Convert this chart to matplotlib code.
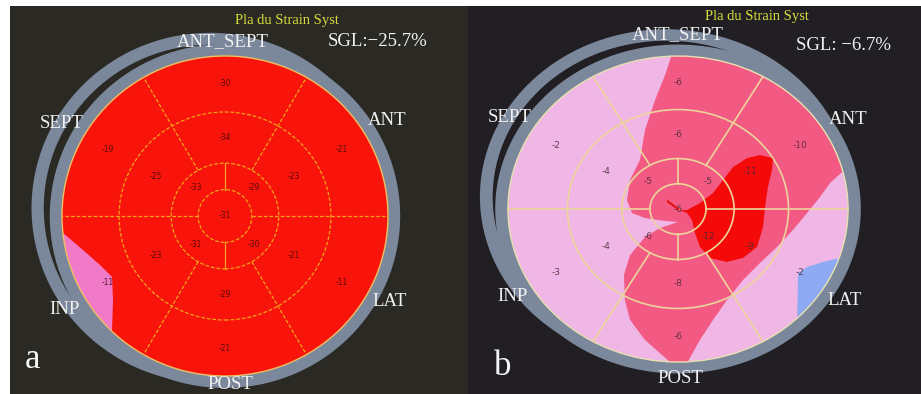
import numpy as np
import matplotlib.pyplot as plt
from matplotlib.patches import Wedge, Circle, Polygon

# 17-segment bullseye, segments listed ANT_SEPT, ANT, LAT, POST, INP, SEPT
seg_angles = [90, 30, -30, -90, -150, 150]
apical_angles = [45, 135, 225, 315]
ring_radii = [0.165, 0.33, 0.65, 1.0]

a_basal = [-30, -21, -11, -21, -11, -19]
a_mid = [-34, -23, -21, -29, -23, -25]
a_apical = [-29, -33, -31, -30]
a_apex = -31
a_sgl = "SGL:\u221225.7%"

b_basal = [-6, -10, -2, -6, -3, -2]
b_mid = [-6, -11, -9, -8, -4, -4]
b_apical = [-5, -5, -6, -12]
b_apex = -6
b_sgl = "SGL: \u22126.7%"

wall_names = ["ANT_SEPT", "SEPT", "ANT", "INP", "LAT", "POST"]

# colour zones (unit disc coordinates)
a_pink_x = [-1.2, -0.994, -0.871, -0.767, -0.693, -0.687, -0.693, -0.70, -1.2]
a_pink_y = [-0.10, -0.106, -0.213, -0.306, -0.381, -0.525, -0.713, -0.95, -0.95]

b_mid_x = [-0.018, -0.076, -0.135, -0.194, -0.224, -0.282, -0.300, -0.271, -0.194,
           -0.076, 0.0, -0.106, -0.194, -0.282, -0.318, -0.312, -0.282, -0.194,
           -0.094, -0.006, 0.071, 0.053, 0.129, 0.206, 0.288, 0.382, 0.482, 0.582,
           0.676, 0.759, 0.835, 0.894, 1.012, 1.3, 1.3, -0.018]
b_mid_y = [1.072, 0.876, 0.712, 0.516, 0.320, 0.190, 0.059, -0.026, -0.059,
           -0.078, -0.085, -0.124, -0.183, -0.301, -0.431, -0.595, -0.725, -0.856,
           -0.954, -1.039, -1.118, -1.007, -0.856, -0.725, -0.595, -0.464, -0.353, -0.248,
           -0.137, -0.026, 0.078, 0.170, 0.288, 0.30, 1.3, 1.3]

b_red_x = [0.053, 0.129, 0.206, 0.265, 0.324, 0.406, 0.482, 0.559, 0.553, 0.529,
           0.512, 0.500, 0.465, 0.382, 0.288, 0.188, 0.129, 0.100, 0.082, 0.053, 0.012]
b_red_y = [-0.007, 0.039, 0.105, 0.190, 0.275, 0.333, 0.353, 0.333, 0.255, 0.144,
           0.013, -0.118, -0.248, -0.320, -0.346, -0.320, -0.248, -0.157, -0.072, -0.026, -0.007]

b_blue_x = [0.70, 0.706, 0.759, 0.853, 0.953, 1.3, 1.3]
b_blue_y = [-0.80, -0.418, -0.379, -0.346, -0.320, -0.30, -0.9]

SERIF = "Liberation Serif"
RING = "#7b889c"


def draw_panel(ax, p):
    ax.set_xlim(p["xlim"])
    ax.set_ylim(p["ylim"])
    ax.set_facecolor(p["bg"])
    ax.set_xticks([])
    ax.set_yticks([])
    for s in ax.spines.values():
        s.set_visible(False)

    gx, gy = p["ghost"]
    ax.add_patch(Wedge((gx, gy), 1.095, 0, 360, width=0.075, fc=RING, ec="none", zorder=1))
    ax.add_patch(Wedge((0, 0), 1.075, 0, 360, width=0.08, fc=RING, ec="none", zorder=2))

    disc = Circle((0, 0), 1.0, fc=p["base"], ec="none", zorder=3)
    ax.add_patch(disc)
    for zx, zy, col in p["zones"]:
        poly = Polygon(np.column_stack([zx, zy]), closed=True, fc=col, ec="none", zorder=4)
        ax.add_patch(poly)
        poly.set_clip_path(disc)

    gc, ls, lw = p["grid"]
    for r in ring_radii[:3]:
        ax.add_patch(Circle((0, 0), r, fill=False, ec=gc, lw=lw, ls=ls, zorder=5))
    ax.add_patch(Circle((0, 0), 1.0, fill=False, ec=p["edge"], lw=1.0, zorder=5))
    for ang in [0, 60, 120, 180, 240, 300]:
        r0 = ring_radii[0] if ang in (0, 180) else ring_radii[1]
        t = np.deg2rad(ang)
        ax.plot([r0 * np.cos(t), np.cos(t)], [r0 * np.sin(t), np.sin(t)],
                color=gc, lw=lw, ls=ls, zorder=5)
    for ang in [90, 270]:
        t = np.deg2rad(ang)
        ax.plot([ring_radii[0] * np.cos(t), ring_radii[1] * np.cos(t)],
                [ring_radii[0] * np.sin(t), ring_radii[1] * np.sin(t)],
                color=gc, lw=lw, zorder=5)

    nc, fs = p["num"]
    kw = dict(ha="center", va="center", color=nc, fontsize=fs, zorder=6, alpha=0.85)
    rb, rm, ra = 0.83, 0.49, 0.25
    for ang, v in zip(seg_angles, p["basal"]):
        t = np.deg2rad(ang)
        ax.text(rb * np.cos(t), rb * np.sin(t), str(v), **kw)
    for ang, v in zip(seg_angles, p["mid"]):
        t = np.deg2rad(ang)
        ax.text(rm * np.cos(t), rm * np.sin(t), str(v), **kw)
    for ang, v in zip(apical_angles, p["apical"]):
        t = np.deg2rad(ang)
        ax.text(ra * np.cos(t), ra * np.sin(t), str(v), **kw)
    ax.text(0, 0, str(p["apex"]), **kw)

    for name, (x, y) in zip(wall_names, p["label_pos"]):
        ax.text(x, y, name, ha="center", va="center", color="#f2f2f2",
                fontsize=13.5, family=SERIF, zorder=7)
    x, y = p["title_pos"]
    ax.text(x, y, "Pla du Strain Syst", ha="center", va="center", color="#d6dc3a",
            fontsize=10.5, family=SERIF, zorder=7)
    x, y = p["sgl_pos"]
    ax.text(x, y, p["sgl"], ha="center", va="center", color="#f2f2f2",
            fontsize=13.5, family=SERIF, zorder=7)
    x, y = p["tag_pos"]
    ax.text(x, y, p["tag"], ha="center", va="center", color="#f5f5f5",
            fontsize=25, family=SERIF, zorder=7)


fig = plt.figure(figsize=(9.21, 3.94), dpi=100, facecolor="white")

panel_a = dict(
    xlim=(-1.319, 1.491), ylim=(-1.1125, 1.3125), bg="#2a2923",
    ghost=(-0.092, 0.05), base="#f8140a", edge="#f0c060",
    zones=[(a_pink_x, a_pink_y, "#f07ac8")],
    grid=("#f2a21a", (0, (3, 1.5)), 0.9), num=("#3a0a0a", 5.5),
    basal=a_basal, mid=a_mid, apical=a_apical, apex=a_apex,
    label_pos=[(-0.012, 1.0875), (-1.0, 0.581), (0.994, 0.594),
               (-0.982, -0.5875), (1.012, -0.5375), (0.031, -1.056)],
    title_pos=(0.38, 1.219), sgl=a_sgl, sgl_pos=(0.939, 1.0875),
    tag="a", tag_pos=(-1.184, -0.90),
)

panel_b = dict(
    xlim=(-1.235, 1.429), ylim=(-1.209, 1.327), bg="#211f23",
    ghost=(-0.07, 0.08), base="#f0b6e6", edge="#e8e0b0",
    zones=[(b_mid_x, b_mid_y, "#f25a84"), (b_red_x, b_red_y, "#f50a0a"),
           (b_blue_x, b_blue_y, "#8eaaf4")],
    grid=("#ecd49a", "-", 1.2), num=("#4a2a3a", 6.5),
    basal=b_basal, mid=b_mid, apical=b_apical, apex=b_apex,
    label_pos=[(0.0, 1.137), (-0.988, 0.601), (1.0, 0.582),
               (-0.971, -0.575), (0.982, -0.595), (0.012, -1.105)],
    title_pos=(0.465, 1.261), sgl=b_sgl, sgl_pos=(0.971, 1.072),
    tag="b", tag_pos=(-1.029, -1.03),
)

ax_a = fig.add_axes([10 / 921, 0, 458 / 921, 388 / 394])
ax_b = fig.add_axes([468 / 921, 0, 453 / 921, 388 / 394])
draw_panel(ax_a, panel_a)
draw_panel(ax_b, panel_b)

# small red pointer at the apex of map b
ax_b.plot([-0.06, 0.0], [0.05, 0.0], color="#e01010", lw=1.5, zorder=6)

fig.savefig("out.png", dpi=100, facecolor="white")
